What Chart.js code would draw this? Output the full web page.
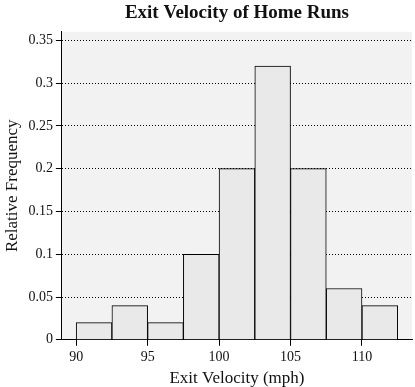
<!DOCTYPE html>
<html><head><meta charset="utf-8">
<script src="https://cdn.jsdelivr.net/npm/chart.js@4.4.0/dist/chart.umd.min.js"></script>
<style>html,body{margin:0;padding:0;background:#fff}#wrap{width:415px;height:387px}</style>
</head><body><div id="wrap"><canvas id="c" width="415" height="387"></canvas></div>
<script>
const binCenters = [91.25, 93.75, 96.25, 98.75, 101.25, 103.75, 106.25, 108.75, 111.25];
const relFreq = [0.02, 0.04, 0.02, 0.10, 0.20, 0.32, 0.20, 0.06, 0.04];
const xTicks = [90, 95, 100, 105, 110];
const yTicks = [0, 0.05, 0.1, 0.15, 0.2, 0.25, 0.3, 0.35];
const FONT = "'Liberation Serif', 'DejaVu Serif', serif";

const bgPlugin = {
  id: 'bg',
  beforeDraw(chart) {
    const {ctx, chartArea: a} = chart;
    ctx.save();
    ctx.fillStyle = '#f2f2f2';
    ctx.fillRect(a.left, a.top, a.right - a.left, a.bottom - a.top);
    ctx.restore();
  }
};

new Chart(document.getElementById('c'), {
  type: 'bar',
  data: {
    datasets: [{
      data: binCenters.map((x, i) => ({x: x, y: relFreq[i]})),
      backgroundColor: '#e9e9e9',
      borderColor: '#000',
      borderWidth: 1,
      barPercentage: 1,
      categoryPercentage: 1,
      grouped: false
    }]
  },
  options: {
    responsive: false,
    animation: false,
    layout: {padding: {left: 2, right: 3, top: 0, bottom: -2}},
    plugins: {
      legend: {display: false},
      tooltip: {enabled: false},
      title: {
        display: true,
        fullSize: false,
        text: 'Exit Velocity of Home Runs',
        color: '#111',
        font: {family: FONT, size: 19, weight: 'bold'},
        padding: {top: 2, bottom: 7}
      }
    },
    scales: {
      x: {
        type: 'linear',
        offset: false,
        min: 89,
        max: 113.5,
        afterBuildTicks(axis) { axis.ticks = xTicks.map(v => ({value: v})); },
        ticks: {color: '#111', font: {family: FONT, size: 14}, padding: 3, maxRotation: 0},
        grid: {offset: false, drawOnChartArea: false, drawTicks: true, tickLength: 6, color: '#000'},
        border: {display: true, color: '#000', width: 1},
        title: {display: true, text: 'Exit Velocity (mph)', color: '#111', font: {family: FONT, size: 17}, padding: {top: 0, bottom: 0}}
      },
      y: {
        min: 0,
        max: 0.36,
        afterBuildTicks(axis) { axis.ticks = yTicks.map(v => ({value: v})); },
        ticks: {color: '#111', font: {family: FONT, size: 14}, padding: 3,
          callback: v => String(Math.round(v * 100) / 100)},
        grid: {color: '#000', tickBorderDash: [], tickLength: 6, lineWidth: 1},
        border: {display: true, color: '#000', width: 1, dash: [1, 2]},
        title: {display: true, text: 'Relative Frequency', color: '#111', font: {family: FONT, size: 17}, padding: {top: 0, bottom: 3}}
      }
    }
  },
  plugins: [bgPlugin]
});
</script></body></html>
